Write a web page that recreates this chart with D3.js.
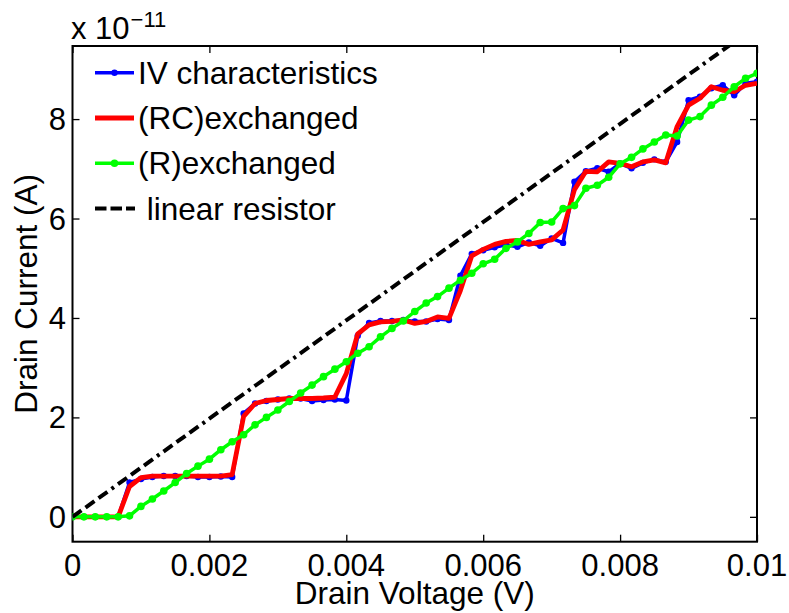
<!DOCTYPE html>
<html><head><meta charset="utf-8">
<script src="https://cdn.jsdelivr.net/npm/d3@7"></script>
<style>
body{margin:0;background:#fff}
text{font-family:"Liberation Sans",Arial,Helvetica,sans-serif;fill:#000}
</style>
</head><body>
<svg id="chart" width="789" height="613"></svg>
<script>
// Drain voltage (V)
const voltage = [0,0.000167,0.000333,0.0005,0.000667,0.000833,0.001,0.001167,0.001333,0.0015,
 0.001667,0.001833,0.002,0.002167,0.002333,0.0025,0.002667,0.002833,0.003,0.003167,
 0.003333,0.0035,0.003667,0.003833,0.004,0.004167,0.004333,0.0045,0.004667,0.004833,
 0.005,0.005167,0.005333,0.0055,0.005667,0.005833,0.006,0.006167,0.006333,0.0065,
 0.006667,0.006833,0.007,0.007167,0.007333,0.0075,0.007667,0.007833,0.008,0.008167,
 0.008333,0.0085,0.008667,0.008833,0.009,0.009167,0.009333,0.0095,0.009667,0.009833,0.01];
// Drain current in units of 1e-11 A
const ivCharacteristics = [0,0,0,0,0,0.69,0.76,0.80,0.82,0.82,
 0.82,0.80,0.80,0.81,0.80,2.08,2.28,2.33,2.36,2.38,
 2.38,2.33,2.35,2.36,2.34,3.64,3.90,3.94,3.94,3.96,
 3.93,3.93,3.98,3.96,4.85,5.29,5.36,5.42,5.47,5.43,
 5.52,5.45,5.60,5.51,6.74,6.95,7.01,6.94,7.11,7.01,
 7.12,7.19,7.14,7.54,8.38,8.45,8.62,8.68,8.48,8.72,8.75];
const rcExchanged = [0,0,0,0,0,0.61,0.79,0.82,0.82,0.82,
 0.82,0.82,0.82,0.82,0.85,2.02,2.28,2.34,2.36,2.38,
 2.38,2.38,2.39,2.41,2.88,3.68,3.86,3.92,3.93,3.96,
 3.89,3.93,4.02,3.99,4.55,5.25,5.38,5.48,5.54,5.56,
 5.48,5.53,5.57,5.77,6.58,6.95,6.94,7.14,7.11,7.04,
 7.14,7.18,7.12,7.85,8.28,8.42,8.65,8.58,8.55,8.68,8.72];
const rExchanged = [0,0,0,0,0,0.02,0.21,0.36,0.52,0.69,
 0.87,1.02,1.16,1.35,1.51,1.65,1.85,2.00,2.15,2.32,
 2.49,2.65,2.82,2.97,3.12,3.29,3.42,3.62,3.79,3.94,
 4.13,4.30,4.43,4.60,4.76,4.90,5.09,5.18,5.40,5.53,
 5.70,5.92,5.93,6.20,6.26,6.61,6.67,6.83,7.10,7.23,
 7.40,7.54,7.68,7.66,7.98,8.05,8.28,8.44,8.65,8.82,8.92];
const linearVoltage = [0, 0.01];
const linearCurrent = [0, 9.88];
const xTicks = [0,0.002,0.004,0.006,0.008,0.01];
const xTickLabels = ["0","0.002","0.004","0.006","0.008","0.01"];
const yTicks = [0,2,4,6,8];
const yTickLabels = ["0","2","4","6","8"];
const seriesNames = ["IV characteristics","(RC)exchanged","(R)exchanged"," linear resistor"];
const seriesColors = ["#0000ff","#ff0000","#00ff00","#000000"];

const svg = d3.select("#chart");
svg.append("rect").attr("width",789).attr("height",613).attr("fill","#fff");

const L=72.5, R=757, T=46, B=541.7;
const x = d3.scaleLinear().domain([0,0.01]).range([L,R]);
const y = d3.scaleLinear().domain([-0.5,9.47]).range([B,T]);
const FS = 31;

svg.append("defs").append("clipPath").attr("id","clip")
  .append("rect").attr("x",L).attr("y",T).attr("width",R-L).attr("height",B-T);

// axes with inward ticks
const tk = 7;
const axB = svg.append("g").attr("transform",`translate(0,${B})`)
  .call(d3.axisBottom(x).tickValues(xTicks).tickFormat("").tickSize(-tk).tickSizeOuter(0));
const axT = svg.append("g").attr("transform",`translate(0,${T})`)
  .call(d3.axisTop(x).tickValues(xTicks).tickFormat("").tickSize(-tk).tickSizeOuter(0));
const axL = svg.append("g").attr("transform",`translate(${L},0)`)
  .call(d3.axisLeft(y).tickValues(yTicks).tickFormat("").tickSize(-tk).tickSizeOuter(0));
const axR = svg.append("g").attr("transform",`translate(${R},0)`)
  .call(d3.axisRight(y).tickValues(yTicks).tickFormat("").tickSize(-tk).tickSizeOuter(0));
[axB,axT,axL,axR].forEach(g=>{
  g.select(".domain").remove();
  g.selectAll(".tick line").attr("stroke","#000").attr("stroke-width",1.3);
});
svg.append("rect").attr("x",L).attr("y",T).attr("width",R-L).attr("height",B-T)
  .attr("fill","none").attr("stroke","#000").attr("stroke-width",2);

// tick labels
svg.append("g").selectAll("text").data(xTicks).join("text")
  .attr("x",d=>x(d)).attr("y",576).attr("text-anchor","middle")
  .attr("font-size",FS).text((d,i)=>xTickLabels[i]);
svg.append("g").selectAll("text").data(yTicks).join("text")
  .attr("x",66).attr("y",d=>y(d)+11).attr("text-anchor","end")
  .attr("font-size",FS).text((d,i)=>yTickLabels[i]);

// axis labels
svg.append("text").attr("x",(L+R)/2).attr("y",604).attr("text-anchor","middle")
  .attr("font-size",31.5).text("Drain Voltage (V)");
svg.append("text").attr("transform",`translate(37,${(T+B)/2}) rotate(-90)`)
  .attr("text-anchor","middle").attr("font-size",31.5).text("Drain Current (A)");
// exponent
const ex = svg.append("text").attr("x",71).attr("y",39).attr("font-size",FS);
ex.append("tspan").text("x 10");
ex.append("tspan").attr("font-size",22).attr("dy",-12).attr("dx",1).text("\u221211");

// series
const plot = svg.append("g").attr("clip-path","url(#clip)");
const line = d3.line().x(d=>x(d[0])).y(d=>y(d[1]));
const series = [ivCharacteristics, rcExchanged, rExchanged];
const widths = [3.5,4.8,3.5];
series.forEach((vals,k)=>{
  const pts = voltage.map((v,i)=>[v,vals[i]]);
  plot.append("path").datum(pts).attr("d",line).attr("fill","none")
    .attr("stroke",seriesColors[k]).attr("stroke-width",widths[k]).attr("stroke-linejoin","round");
  if(k===0){
    plot.append("g").selectAll("circle").data(pts).join("circle")
      .attr("cx",d=>x(d[0])).attr("cy",d=>y(d[1])).attr("r",3.2).attr("fill",seriesColors[k]);
  }
  if(k===2){
    plot.append("g").selectAll("circle").data(pts).join("circle")
      .attr("cx",d=>x(d[0])).attr("cy",d=>y(d[1])).attr("r",3.8).attr("fill",seriesColors[k]);
  }
});
const linPts = linearVoltage.map((v,i)=>[v,linearCurrent[i]]);
plot.append("path").datum(linPts).attr("d",line).attr("fill","none")
  .attr("stroke","#000").attr("stroke-width",4)
  .attr("stroke-dasharray","11,5,11,5,11,5,3,5");

// legend
const lg = svg.append("g");
const rowY = [72.7,118,163.3,208.5];
seriesNames.forEach((name,k)=>{
  const ly = rowY[k];
  const ln = lg.append("line").attr("x1",95).attr("x2",134).attr("y1",ly).attr("y2",ly)
    .attr("stroke",seriesColors[k]).attr("stroke-width",k===3?4:(k===1?4.8:3.5));
  if(k===3) ln.attr("x2",135).attr("stroke-dasharray","11.5,4");
  if(k===0||k===2) lg.append("circle").attr("cx",114.5).attr("cy",ly).attr("r",k===0?3.2:3.8).attr("fill",seriesColors[k]);
  lg.append("text").attr("x",138).attr("y",ly+11).attr("font-size",31.5)
    .style("white-space","pre").text(name);
});
</script>
</body></html>
